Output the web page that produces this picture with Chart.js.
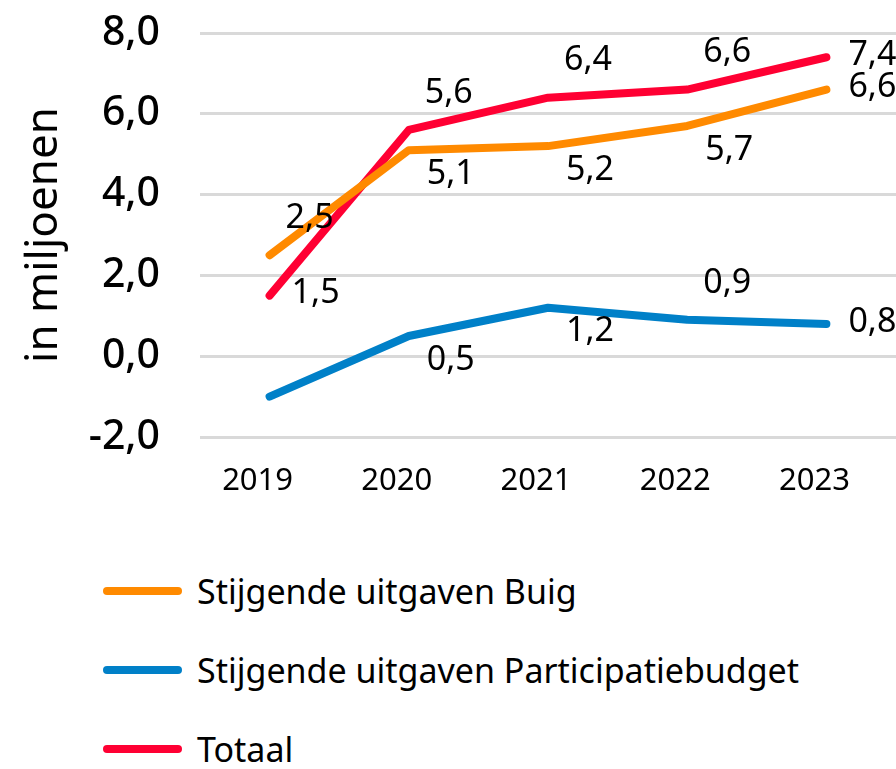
<!DOCTYPE html>
<html>
<head>
<meta charset="utf-8">
<script src="https://cdn.jsdelivr.net/npm/chart.js@4.4.0/dist/chart.umd.min.js"></script>
<style>
  body { margin: 0; background: #fff; font-family: "Noto Sans", sans-serif; }
  #wrap { position: relative; width: 896px; height: 769px; overflow: hidden; }
  #box { position: absolute; left: 0; top: 0; width: 896px; height: 530px; }
  #legend { position: absolute; left: 103px; top: 551px; }
  .item { height: 79px; display: flex; align-items: center; }
  .swatch { width: 79px; height: 8px; border-radius: 4px; margin-right: 15px; }
  .txt { font-size: 34px; color: #000; }
</style>
</head>
<body>
<div id="wrap">
  <div id="box"><canvas id="lijn"></canvas></div>
  <div id="legend"></div>
</div>
<script>
// gegevens
const jaren = ['2019', '2020', '2021', '2022', '2023'];
const buig = [2.5, 5.1, 5.2, 5.7, 6.6];
const participatie = [-1.0, 0.5, 1.2, 0.9, 0.8];
const totaal = [1.5, 5.6, 6.4, 6.6, 7.4];
const yTicks = [-2, 0, 2, 4, 6, 8];

// waar het label staat: boven (a), onder (b), rechts (r), geen (null)
const plekBuig = ['a', 'b', 'b', 'b', 'r'];
const plekPart = [null, 'b', 'b', 'a', 'r'];
const plekTotaal = ['r', 'a', 'a', 'a', 'r'];

const kleuren = ['#FF8A00', '#0080C8', '#FF0033'];

// labels bij de punten tekenen
const puntLabels = {
    id: 'puntLabels',
    afterDatasetsDraw(chart) {
        const ctx = chart.ctx;
        ctx.save();
        ctx.font = '34px "Noto Sans"';
        ctx.fillStyle = '#000';
        ctx.textBaseline = 'middle';
        chart.data.datasets.forEach((ds, i) => {
            const meta = chart.getDatasetMeta(i);
            meta.data.forEach((pt, j) => {
                const plek = ds.plek[j];
                if (!plek) return;
                const tekst = ds.data[j].toFixed(1).replace('.', ',');
                let x = pt.x, y = pt.y;
                if (plek === 'a') { ctx.textAlign = 'center'; x += 40; y -= 37; }
                else if (plek === 'b') { ctx.textAlign = 'center'; x += 42; y += 24; }
                else { ctx.textAlign = 'left'; x += 22; y -= 2; }
                ctx.fillText(tekst, x, y);
            });
        });
        ctx.restore();
    }
};

const ctx = document.getElementById('lijn').getContext('2d');
const lijnChart = new Chart(ctx, {
    type: 'line',
    data: {
        labels: jaren,
        datasets: [
            { label: 'Stijgende uitgaven Buig', data: buig, plek: plekBuig, borderColor: kleuren[0] },
            { label: 'Stijgende uitgaven Participatiebudget', data: participatie, plek: plekPart, borderColor: kleuren[1] },
            { label: 'Totaal', data: totaal, plek: plekTotaal, borderColor: kleuren[2] }
        ].map(d => Object.assign(d, {
            borderWidth: 8,
            borderCapStyle: 'round',
            borderJoinStyle: 'round',
            pointRadius: 0,
            tension: 0,
            fill: false
        }))
    },
    options: {
        responsive: true,
        maintainAspectRatio: false,
        animation: false,
        layout: { padding: { top: 33, right: 0, left: 0, bottom: 0 } },
        plugins: {
            legend: { display: false },
            tooltip: { enabled: false }
        },
        scales: {
            x: {
                offset: true,
                grid: { display: false },
                border: { display: false },
                ticks: {
                    color: '#000',
                    font: { family: 'Noto Sans', size: 31 },
                    padding: 18,
                    labelOffset: -12
                },
                afterFit(scale) { scale.height = 93; }
            },
            y: {
                min: -2,
                max: 8,
                afterBuildTicks(scale) { scale.ticks = yTicks.map(v => ({ value: v })); },
                grid: { color: '#D9D9D9', lineWidth: 3, drawTicks: false },
                border: { display: false },
                ticks: {
                    color: '#000',
                    font: { family: 'Noto Sans', size: 41, weight: '500' },
                    padding: 40,
                    callback: v => v.toFixed(1).replace('.', ',')
                },
                title: {
                    display: true,
                    text: 'in miljoenen',
                    color: '#000',
                    font: { family: 'Noto Sans', size: 44 },
                    padding: { top: 18, bottom: 0 }
                },
                afterFit(scale) {
                    scale.width = 200;
                    scale.paddingTop = 0;
                    scale.paddingBottom = 0;
                }
            }
        }
    },
    plugins: [puntLabels]
});

// legenda onder de grafiek
const legend = document.getElementById('legend');
lijnChart.data.datasets.forEach(ds => {
    const item = document.createElement('div');
    item.className = 'item';
    item.innerHTML = '<div class="swatch" style="background:' + ds.borderColor + '"></div><span class="txt">' + ds.label + '</span>';
    legend.appendChild(item);
});
</script>
</body>
</html>
